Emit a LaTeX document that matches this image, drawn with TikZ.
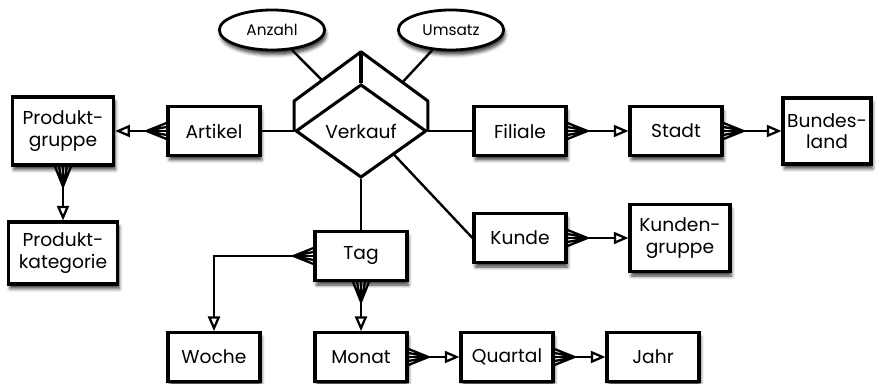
\documentclass[tikz,border=0pt]{standalone}
\usepackage{fontspec}
\setmainfont{Poppins}
\usetikzlibrary{arrows.meta,shapes.geometric,shadows.blur,calc}

% Kraehenfuss (n-Seite)
\pgfdeclarearrow{
	name = Crow,
	parameters = {\the\pgfarrowlength,\the\pgfarrowwidth},
	setup code = {
		\pgfarrowssettipend{0pt}
		\pgfarrowssetlineend{0pt}
		\pgfarrowssetbackend{-\pgfarrowlength}
		\pgfarrowssavethe\pgfarrowlength
		\pgfarrowssavethe\pgfarrowwidth
	},
	drawing code = {
		\pgfsetdash{}{0pt}
		\pgfsetroundjoin
		\pgfpathmoveto{\pgfqpoint{0pt}{.5\pgfarrowwidth}}
		\pgfpathlineto{\pgfqpoint{-\pgfarrowlength}{0pt}}
		\pgfpathlineto{\pgfqpoint{0pt}{-.5\pgfarrowwidth}}
		\pgfpathmoveto{\pgfqpoint{0pt}{.25\pgfarrowwidth}}
		\pgfpathlineto{\pgfqpoint{-\pgfarrowlength}{0pt}}
		\pgfpathlineto{\pgfqpoint{0pt}{-.25\pgfarrowwidth}}
		\pgfusepathqstroke
	},
	defaults = {length=15pt, width=12pt}
}

\begin{document}
\begin{tikzpicture}[x=0.75pt,y=-0.75pt,
	every node/.style={font=\fontsize{14}{16}\selectfont},
	shade/.style={blur shadow={shadow xshift=1.2pt, shadow yshift=-3.5pt, shadow blur radius=2.5pt, shadow opacity=75}},
	entity/.style={draw, line width=2.3pt, fill=white, align=center, minimum width=69pt, minimum height=36.5pt, inner sep=1pt, shade},
	attrib/.style={draw, ellipse, line width=2.1pt, fill=white, minimum width=79pt, minimum height=30pt, inner sep=0pt, font=\fontsize{11.5}{13}\selectfont, shade},
	link/.style={line width=1.8pt},
	rel/.style={line width=1.7pt, {Crow}-{Triangle[open,length=11pt,width=9pt]}}]
	\useasboundingbox (0,0) rectangle (888,384);
	% Faktentabelle
	\node[draw, diamond, line width=2.3pt, fill=white, minimum width=98pt, minimum height=70pt, inner sep=0pt] (verkauf) at (361,131) {Verkauf};
	\coordinate (vl) at ($(verkauf.west)+(0,-30)$);
	\coordinate (vt) at ($(verkauf.north)+(0,-31)$);
	\coordinate (vr) at ($(verkauf.east)+(0,-30)$);
	\draw[line width=2.3pt, line join=round] (verkauf.west) -- (vl) -- (vt) -- (vr) -- (verkauf.east);
	\draw[line width=2.3pt] (verkauf.north) -- (vt);
	\node[attrib] (anzahl) at (272,30) {Anzahl};
	\node[attrib] (umsatz) at (451,30) {Umsatz};
	\draw[link] (anzahl) -- ($(vl)!0.42!(vt)$);
	\draw[link] (umsatz) -- ($(vt)!0.62!(vr)$);
	% Dimensionen
	\node[entity] (artikel) at (214,131) {Artikel};
	\node[entity, minimum width=76pt, minimum height=51pt] (produktgruppe) at (63,131) {Produkt-\\gruppe};
	\node[entity, minimum width=82pt, minimum height=46.5pt] (produktkategorie) at (63,253) {Produkt-\\kategorie};
	\node[entity] (filiale) at (520,131) {Filiale};
	\node[entity] (stadt) at (676,131) {Stadt};
	\node[entity, minimum width=66pt, minimum height=49.5pt] (bundesland) at (827,131) {Bundes-\\land};
	\node[entity] (kunde) at (520,238) {Kunde};
	\node[entity, minimum width=75pt, minimum height=50pt] (kundengruppe) at (680,238) {Kunden-\\gruppe};
	\node[entity] (tag) at (361,256) {Tag};
	\node[entity] (woche) at (214,357) {Woche};
	\node[entity] (monat) at (361,357) {Monat};
	\node[entity] (quartal) at (507,357) {Quartal};
	\node[entity] (jahr) at (653,357) {Jahr};
	% Verbindungen
	\draw[link] (artikel) -- (verkauf.west);
	\draw[link] (verkauf.east) -- (filiale);
	\draw[link] (verkauf.south) -- (tag);
	\draw[link] (verkauf.south east) -- (kunde.west);
	\draw[rel] (artikel) -- (produktgruppe);
	\draw[rel] (produktgruppe) -- (produktkategorie);
	\draw[rel] (filiale) -- (stadt);
	\draw[rel] (stadt) -- (bundesland);
	\draw[rel] (kunde) -- (kundengruppe);
	\draw[rel] (tag.west) -| (woche);
	\draw[rel] (tag) -- (monat);
	\draw[rel] (monat) -- (quartal);
	\draw[rel] (quartal) -- (jahr);
\end{tikzpicture}
\end{document}
